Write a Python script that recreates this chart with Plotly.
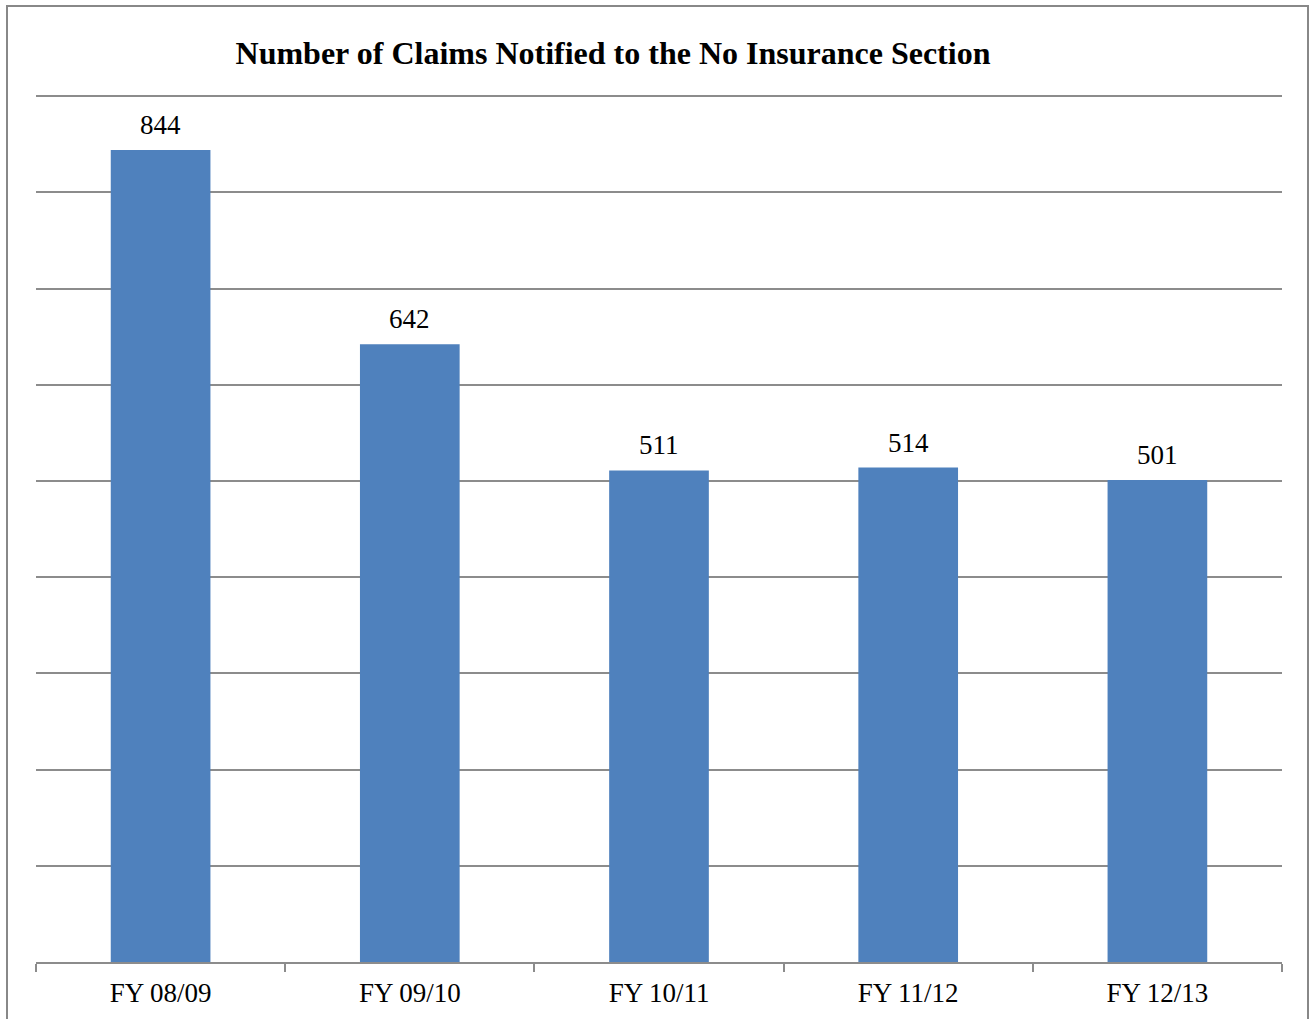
import plotly.graph_objects as go

categories = ["FY 08/09", "FY 09/10", "FY 10/11", "FY 11/12", "FY 12/13"]
claims = [844, 642, 511, 514, 501]

W, H = 1315, 1019
L, R, T, B = 36, 33, 95, 57
pw, ph = W - L - R, H - T - B
SERIF = "Liberation Serif, Times New Roman, serif"

fig = go.Figure(go.Bar(
    x=categories, y=claims,
    marker=dict(color="#4F81BD", line=dict(width=0)),
    hoverinfo="x+y",
))

for c, v in zip(categories, claims):
    fig.add_annotation(x=c, y=v, text=str(v), showarrow=False,
                       xanchor="center", yanchor="bottom", yshift=8,
                       font=dict(family=SERIF, size=27, color="black"))

fig.update_layout(
    width=W, height=H,
    margin=dict(l=L, r=R, t=T, b=B),
    paper_bgcolor="white", plot_bgcolor="white",
    bargap=0.6, showlegend=False,
    font=dict(family=SERIF, color="black"),
    title=dict(text="<b>Number of Claims Notified to the No Insurance Section</b>",
               x=613 / W, xanchor="center", y=1 - 53 / H, yanchor="middle",
               font=dict(size=32, color="black")),
    xaxis=dict(showline=True, linecolor="#8c8c8c", linewidth=1.5,
               ticks="outside", tickson="boundaries", ticklen=8, tickcolor="#8c8c8c", tickwidth=1.5,
               ticklabelstandoff=6,
               tickfont=dict(size=27, color="black"), showgrid=False),
    yaxis=dict(range=[0, 901.2], dtick=100, showgrid=True, gridcolor="#8c8c8c", gridwidth=1.5,
               showticklabels=False, zeroline=False, showline=False),
    shapes=[dict(type="rect", xref="paper", yref="paper",
                 x0=(7 - L) / pw, x1=(1308 - L) / pw,
                 y0=(H - B - 1030) / ph, y1=(H - B - 6) / ph,
                 line=dict(color="#888888", width=2), fillcolor="rgba(0,0,0,0)", layer="below")],
)

fig.write_html("out.html", config={"displayModeBar": False},
               post_script="document.body.style.margin='0';")
